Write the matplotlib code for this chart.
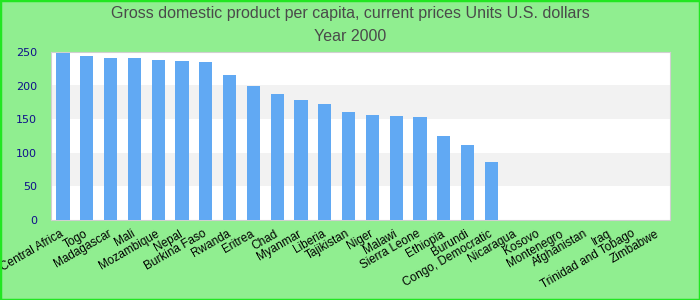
import matplotlib
matplotlib.use("Agg")
import matplotlib.pyplot as plt
from matplotlib.patches import Rectangle
from matplotlib.transforms import ScaledTranslation
import numpy as np

plt.rcParams['font.family'] = ['Liberation Sans', 'DejaVu Sans']

# Data
countries = ["Central Africa", "Togo", "Madagascar", "Mali", "Mozambique", "Nepal",
             "Burkina Faso", "Rwanda", "Eritrea", "Chad", "Myanmar", "Liberia",
             "Tajikistan", "Niger", "Malawi", "Sierra Leone", "Ethiopia", "Burundi",
             "Congo, Democratic", "Nicaragua", "Kosovo", "Montenegro", "Afghanistan",
             "Iraq", "Trinidad and Tobago", "Zimbabwe"]
gdp = [248, 243.5, 240.5, 240.5, 237.5, 236, 234.5, 215, 199, 187, 178, 172,
       160, 156, 154.5, 153, 124.5, 111.5, 86, np.nan, np.nan, np.nan, np.nan,
       np.nan, np.nan, np.nan]

fig = plt.figure(figsize=(7, 3), dpi=100, facecolor='#90ee90')
fig.patches.append(Rectangle((0, 0), 1, 1, transform=fig.transFigure,
                             fill=False, edgecolor='#22e622', linewidth=2.5))
ax = fig.add_axes([0.073, 0.267, 0.884, 0.56])

x = np.arange(len(countries))
ax.bar(x, gdp, width=0.55, color='#61a9f3', zorder=3)

# alternating bands
for lo in (50, 150):
    ax.axhspan(lo, lo + 50, color='#f2f2f2', zorder=0, linewidth=0)

ax.set_xlim(-0.5, len(countries) - 0.5)
ax.set_ylim(0, 250)
ax.set_yticks([0, 50, 100, 150, 200, 250])
ax.tick_params(axis='y', length=0, labelsize=8, labelcolor='#10108a', pad=10)
for t in ax.get_yticklabels():
    t.set_family('DejaVu Sans')
ax.tick_params(axis='x', length=0, pad=5)
ax.set_xticks(x)
ax.set_xticklabels(countries, rotation=30, ha='right', va='top',
                   rotation_mode='anchor', fontsize=8.5)
shift = ScaledTranslation(-3 / 100, -1 / 100, fig.dpi_scale_trans)
for t in ax.get_xticklabels():
    t.set_transform(t.get_transform() + shift)
for s in ax.spines.values():
    s.set_color('#d0d0d0')

fig.text(0.5, 0.955, "Gross domestic product per capita, current prices Units U.S. dollars",
         ha='center', va='center', fontsize=11.5, color='#4a4a4a')
fig.text(0.5, 0.877, "Year 2000", ha='center', va='center', fontsize=11.5, color='#4a4a4a')

fig.savefig("out.png", dpi=100, facecolor=fig.get_facecolor())
